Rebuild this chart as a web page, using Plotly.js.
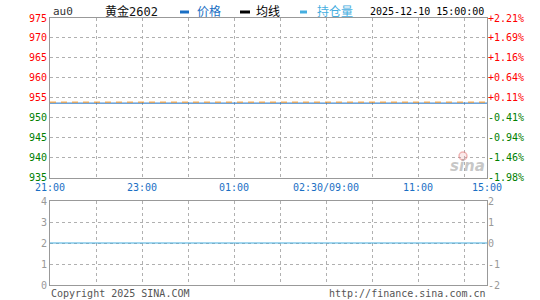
<!DOCTYPE html>
<html><head><meta charset="utf-8">
<script src="https://cdn.plot.ly/plotly-3.0.1.min.js"></script>
<style>html,body{margin:0;padding:0;background:#fff}#c{width:540px;height:300px}</style>
</head><body><div id="c"></div>
<script>
// ---- data ----
const symbol = 'au0';
const contractName = '黄金2602';
const stamp = '2025-12-10 15:00:00';
const timeLabels = ['21:00','23:00','01:00','02:30/09:00','11:00','15:00'];
const timePos = [0, 2, 4, 6, 8, 9.5];       // slot index on the session axis
const lineX = [0, 9.5];                      // session start / end
const price = [953.65, 953.65];              // price line (flat)
const prevClose = [953.9, 953.9];            // dashed reference line
const openInterest = [2, 2];                 // lower panel (left scale)
const priceTicks = [975,970,965,960,955,950,945,940,935];
const pctLabels = ['+2.21%','+1.69%','+1.16%','+0.64%','+0.11%','-0.41%','-0.94%','-1.46%','-1.98%'];
const volTicks = [0,1,2,3,4];
const volRight = ['-2','-1','0','1','2'];

const RED='#ff0000', GREEN='#008000', GREY='#999999';
const BLUE='#1a6fc4', ORANGE='#f7931e', LBLUE='#45aee0';
const refP = 955;
const col = (v)=> v>=refP ? RED : GREEN;
const leftTxt = priceTicks.map(v=>`<span style="color:${col(v)}">${v}</span>`);
const rightTxt = priceTicks.map((v,i)=>`<span style="color:${col(v)}">${pctLabels[i]}</span>`);

const L=50, R=487, W=R-L, H=300, T=18, B=15, PH=H-T-B;
const px = x => (x-L)/W;
const py = y => (H-B-y)/PH;

const F = 'DejaVu Sans Mono, Noto Sans CJK SC, monospace';
const grid = {showgrid:true, gridcolor:'#b0b0b0', griddash:'dot', gridwidth:1};
const xbase = {range:[0,9.5], tickvals:timePos, ticktext:timeLabels, ticks:'', zeroline:false,
  showline:true, mirror:true, linecolor:GREY, linewidth:1, ...grid,
  minor:{dtick:1, tick0:0, showgrid:true, gridcolor:'#b0b0b0', griddash:'dot', gridwidth:1, ticks:''}};

const traces = [
  {x:lineX, y:price, xaxis:'x', yaxis:'y', mode:'lines', line:{color:BLUE, width:1}, hoverinfo:'skip'},
  {x:lineX, y:prevClose, xaxis:'x', yaxis:'y', mode:'lines', line:{color:ORANGE, width:1, dash:'6px,5px'}, hoverinfo:'skip'},
  {x:lineX, y:price, xaxis:'x', yaxis:'y2', mode:'lines', line:{width:0}, opacity:0, hoverinfo:'skip'},
  {x:lineX, y:openInterest, xaxis:'x2', yaxis:'y3', mode:'lines', line:{color:LBLUE, width:1.2}, hoverinfo:'skip'},
  {x:lineX, y:openInterest, xaxis:'x2', yaxis:'y4', mode:'lines', line:{width:0}, opacity:0, hoverinfo:'skip'}
];

const layout = {
  width:540, height:300, margin:{l:L, r:540-R, t:T, b:B},
  paper_bgcolor:'#fff', plot_bgcolor:'#fff', showlegend:false,
  font:{family:F, size:10, color:'#333'},
  xaxis:{...xbase, anchor:'y', domain:[0,1], showticklabels:true, tickfont:{color:BLUE, size:10, family:F}},
  xaxis2:{...xbase, anchor:'y3', domain:[0,1], showticklabels:false},
  yaxis:{domain:[py(177.5),1], range:[935,975], tickvals:priceTicks, ticktext:leftTxt, ticks:'', zeroline:false,
    showline:true, mirror:true, linecolor:GREY, linewidth:1, ...grid, tickfont:{size:10, family:F}},
  yaxis2:{overlaying:'y', side:'right', anchor:'x', range:[935,975], tickvals:priceTicks, ticktext:rightTxt, ticks:'',
    showgrid:false, zeroline:false, showline:false, tickfont:{size:10, family:F}},
  yaxis3:{domain:[0,py(201)], anchor:'x2', range:[0,4], tickvals:volTicks, ticks:'', zeroline:false,
    showline:true, mirror:true, linecolor:GREY, linewidth:1, ...grid, tickfont:{size:10, family:F, color:GREY}},
  yaxis4:{overlaying:'y3', side:'right', anchor:'x2', range:[0,4], tickvals:volTicks, ticktext:volRight, ticks:'',
    showgrid:false, zeroline:false, showline:false, tickfont:{size:10, family:F, color:GREY}},
  shapes:[
    {type:'line', xref:'paper', yref:'paper', x0:px(180), x1:px(189), y0:py(12), y1:py(12), line:{color:BLUE, width:3}},
    {type:'line', xref:'paper', yref:'paper', x0:px(240), x1:px(250), y0:py(12), y1:py(12), line:{color:'#000', width:3}},
    {type:'line', xref:'paper', yref:'paper', x0:px(300), x1:px(307), y0:py(12), y1:py(12), line:{color:LBLUE, width:3}},
    {type:'circle', xref:'paper', yref:'paper', x0:px(459), x1:px(467), y0:py(160), y1:py(152), line:{color:'rgba(230,120,120,0.5)', width:1.5}, fillcolor:'rgba(240,170,170,0.25)'}
  ],
  annotations:[
    {text:symbol, xref:'paper', yref:'paper', x:px(51), y:py(12), xanchor:'left', yanchor:'middle', showarrow:false, font:{family:F, size:11, color:'#333'}},
    {text:contractName, xref:'paper', yref:'paper', x:px(103), y:py(12), xanchor:'left', yanchor:'middle', showarrow:false, font:{family:F, size:12, color:'#111'}},
    {text:'价格', xref:'paper', yref:'paper', x:px(195), y:py(12), xanchor:'left', yanchor:'middle', showarrow:false, font:{family:F, size:12, color:BLUE}},
    {text:'均线', xref:'paper', yref:'paper', x:px(254), y:py(12), xanchor:'left', yanchor:'middle', showarrow:false, font:{family:F, size:12, color:'#000'}},
    {text:'持仓量', xref:'paper', yref:'paper', x:px(315), y:py(12), xanchor:'left', yanchor:'middle', showarrow:false, font:{family:F, size:12, color:LBLUE}},
    {text:stamp, xref:'paper', yref:'paper', x:px(486), y:py(12), xanchor:'right', yanchor:'middle', showarrow:false, font:{family:F, size:10, color:'#000'}},
    {text:'Copyright 2025 SINA.COM', xref:'paper', yref:'paper', x:px(49), y:py(293), xanchor:'left', yanchor:'middle', showarrow:false, font:{family:F, size:10, color:'#555'}},
    {text:'http://finance.sina.com.cn', xref:'paper', yref:'paper', x:px(488), y:py(293), xanchor:'right', yanchor:'middle', showarrow:false, font:{family:F, size:10, color:'#555'}},
    {text:'<b><i>sina</i></b>', xref:'paper', yref:'paper', x:px(467), y:py(166), xanchor:'center', yanchor:'middle', showarrow:false, font:{family:'DejaVu Sans', size:15, color:'rgba(150,150,150,0.55)'}}
  ]
};
Plotly.newPlot('c', traces, layout, {staticPlot:true, displayModeBar:false});
</script></body></html>
